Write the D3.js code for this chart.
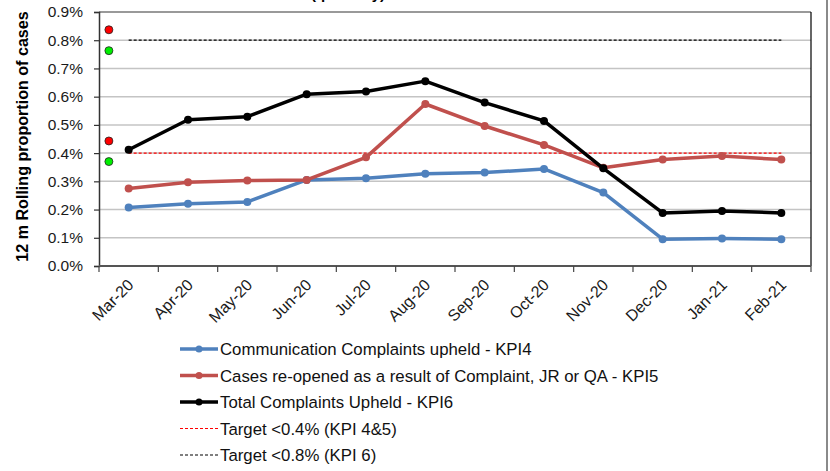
<!DOCTYPE html>
<html>
<head>
<meta charset="utf-8">
<script src="https://cdn.jsdelivr.net/npm/d3@7"></script>
<style>
  body { margin: 0; background: #fff; }
  svg { display: block; font-family: "Liberation Sans", Arial, sans-serif; }
</style>
</head>
<body>
<div id="chart"></div>
<script>
// months on the x axis
var months = ["Mar-20", "Apr-20", "May-20", "Jun-20", "Jul-20", "Aug-20",
              "Sep-20", "Oct-20", "Nov-20", "Dec-20", "Jan-21", "Feb-21"];

// 12 m rolling proportions (%)
var kpi4 = [0.207, 0.221, 0.227, 0.305, 0.311, 0.327, 0.331, 0.344, 0.260, 0.095, 0.097, 0.095];
var kpi5 = [0.275, 0.297, 0.303, 0.305, 0.385, 0.574, 0.496, 0.429, 0.348, 0.377, 0.390, 0.377];
var kpi6 = [0.412, 0.518, 0.529, 0.609, 0.618, 0.655, 0.579, 0.514, 0.346, 0.188, 0.195, 0.188];

var target45 = 0.4;
var target6 = 0.8;

// RAG dots at the left of the plot
var ragValues = [0.837, 0.763, 0.443, 0.370];
var ragStatus = ["R", "G", "R", "G"];

var yTicks = [0, 0.1, 0.2, 0.3, 0.4, 0.5, 0.6, 0.7, 0.8, 0.9];

var legendLabels = [
  "Communication Complaints upheld - KPI4",
  "Cases re-opened as a result of Complaint, JR or QA - KPI5",
  "Total Complaints Upheld - KPI6",
  "Target <0.4% (KPI 4&5)",
  "Target <0.8% (KPI 6)"
];

var W = 830, H = 471;
var margin = {top: 12, right: 19, bottom: 205, left: 99};
var width = W - margin.left - margin.right,
    height = H - margin.top - margin.bottom;

var svg = d3.select("#chart").append("svg")
  .attr("width", W)
  .attr("height", H);

// title, mostly cut off at the top (as in the source)
svg.append("text")
  .attr("x", 348)
  .attr("y", -1)
  .attr("text-anchor", "middle")
  .attr("font-weight", "bold")
  .attr("font-size", "15px")
  .text("(quarterly)");

// grey edge on the right
svg.append("rect")
  .attr("x", 826).attr("y", 0)
  .attr("width", 2).attr("height", H)
  .attr("fill", "#8a8a8a");

var g = svg.append("g")
  .attr("transform", "translate(" + margin.left + "," + margin.top + ")");

var x = d3.scaleBand().domain(months).range([0, width]);
var y = d3.scaleLinear().domain([0, 0.9]).range([height, 0]);
var cx = function(i) { return x(months[i]) + x.bandwidth() / 2; };

// gridlines
g.selectAll(".grid")
  .data(yTicks.filter(function(t) { return t > 0 && t < 0.9; }))
  .enter().append("line")
  .attr("x1", 0).attr("x2", width)
  .attr("y1", function(d) { return y(d); })
  .attr("y2", function(d) { return y(d); })
  .attr("stroke", "#c4c4c4")
  .attr("stroke-width", 1.5);

// frame top + right
g.append("line")
  .attr("x1", 0).attr("x2", width).attr("y1", y(0.9)).attr("y2", y(0.9))
  .attr("stroke", "#777").attr("stroke-width", 1.5);
g.append("line")
  .attr("x1", width).attr("x2", width).attr("y1", 0).attr("y2", height)
  .attr("stroke", "#000").attr("stroke-width", 1.2);

// y axis
var yAxis = g.append("g")
  .call(d3.axisLeft(y).tickValues(yTicks)
    .tickFormat(function(d) { return d.toFixed(1) + "%"; })
    .tickSize(5).tickPadding(11));
yAxis.select(".domain").attr("stroke", "#333").attr("stroke-width", 1.5);
yAxis.selectAll(".tick line").attr("stroke", "#333").attr("stroke-width", 1.2);
yAxis.selectAll("text").attr("font-size", "15.5px").attr("fill", "#1a1a1a")
  .attr("font-family", "Liberation Sans, Arial, sans-serif");

// x axis, ticks at category boundaries
var bounds = months.map(function(m) { return x(m); }).concat([width]);
var xAxisG = g.append("g").attr("transform", "translate(0," + height + ")");
xAxisG.append("line")
  .attr("x1", 0).attr("x2", width)
  .attr("stroke", "#555").attr("stroke-width", 2);
xAxisG.selectAll(".xtick").data(bounds).enter().append("line")
  .attr("x1", function(d) { return d; }).attr("x2", function(d) { return d; })
  .attr("y1", 0).attr("y2", 6)
  .attr("stroke", "#444").attr("stroke-width", 1.2);
xAxisG.selectAll(".xlab").data(months).enter().append("text")
  .attr("text-anchor", "end")
  .attr("font-size", "16px")
  .attr("fill", "#1a1a1a")
  .attr("transform", function(d) {
    return "translate(" + (x(d) + x.bandwidth() / 2 + 6) + ",20) rotate(-45)";
  })
  .text(function(d) { return d; });

// y title
svg.append("text")
  .attr("transform", "translate(28,136.5) rotate(-90)")
  .attr("text-anchor", "middle")
  .attr("font-weight", "bold")
  .attr("font-size", "16.1px")
  .text("12 m Rolling proportion of cases");

// target lines
g.append("line")
  .attr("x1", cx(0)).attr("x2", cx(months.length - 1))
  .attr("y1", y(target6)).attr("y2", y(target6))
  .attr("stroke", "#000").attr("stroke-width", 1.2)
  .attr("stroke-dasharray", "3,2");
g.append("line")
  .attr("x1", cx(0)).attr("x2", cx(months.length - 1))
  .attr("y1", y(target45)).attr("y2", y(target45))
  .attr("stroke", "#ff0000").attr("stroke-width", 1.2)
  .attr("stroke-dasharray", "3,2");

// series
var series = [
  {values: kpi4, color: "#4f81bd"},
  {values: kpi5, color: "#c0504d"},
  {values: kpi6, color: "#000000"}
];
var line = d3.line()
  .x(function(d, i) { return cx(i); })
  .y(function(d) { return y(d); });

series.forEach(function(s) {
  g.append("path")
    .datum(s.values)
    .attr("d", line)
    .attr("fill", "none")
    .attr("stroke", s.color)
    .attr("stroke-width", 3.5)
    .attr("stroke-linejoin", "round");
  g.selectAll(null).data(s.values).enter().append("circle")
    .attr("cx", function(d, i) { return cx(i); })
    .attr("cy", function(d) { return y(d); })
    .attr("r", 4)
    .attr("fill", s.color);
});

// RAG dots
g.selectAll(".rag").data(ragValues).enter().append("circle")
  .attr("cx", cx(0) - x.bandwidth() / 3)
  .attr("cy", function(d) { return y(d); })
  .attr("r", 4)
  .attr("fill", function(d, i) { return ragStatus[i] == "R" ? "#ff0000" : "#00ee00"; })
  .attr("stroke", "#222")
  .attr("stroke-width", 0.8);

// legend
var legendStyles = [
  {color: "#4f81bd", dash: null, marker: true},
  {color: "#c0504d", dash: null, marker: true},
  {color: "#000000", dash: null, marker: true},
  {color: "#ff0000", dash: "3,2", marker: false},
  {color: "#000000", dash: "3,2", marker: false}
];
var leg = svg.append("g").attr("transform", "translate(180,349)");
legendLabels.forEach(function(lbl, i) {
  var st = legendStyles[i];
  var row = leg.append("g").attr("transform", "translate(0," + (i * 26.5) + ")");
  row.append("line")
    .attr("x1", 0).attr("x2", 38)
    .attr("stroke", st.color)
    .attr("stroke-width", st.marker ? 3.5 : 1.2)
    .attr("stroke-dasharray", st.dash);
  if (st.marker) {
    row.append("circle").attr("cx", 19).attr("r", 3.5).attr("fill", st.color);
  }
  row.append("text")
    .attr("x", 40).attr("y", 6)
    .attr("font-size", "16.8px")
    .attr("fill", "#111")
    .text(lbl);
});
</script>
</body>
</html>
